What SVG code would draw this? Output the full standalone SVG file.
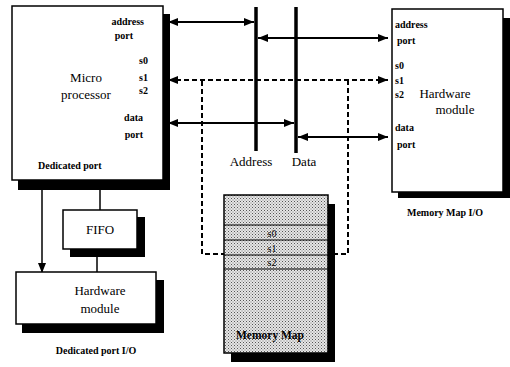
<svg xmlns="http://www.w3.org/2000/svg" width="510" height="367" viewBox="0 0 510 367">
<style>
.box{fill:#fff;stroke:#000;stroke-width:1.5}
.sh{fill:#000}
.t{font-family:"Liberation Serif",serif;fill:#000}
.s{font-size:10px;font-weight:bold}
.m{font-size:13px}
.ln{stroke:#000;stroke-width:2;fill:none}
.bus{stroke:#000;stroke-width:3.5;fill:none}
.dash{stroke:#000;stroke-width:2;stroke-dasharray:5,3;fill:none}
</style>
<defs>
<marker id="ah" viewBox="0 0 10 8" refX="10" refY="4" markerWidth="10" markerHeight="8" markerUnits="userSpaceOnUse" orient="auto-start-reverse">
<path d="M0,0 L10,4 L0,8 z" fill="#000"/>
</marker>
<pattern id="dots" width="3" height="3" patternUnits="userSpaceOnUse">
<rect width="3" height="3" fill="#e6e6e6"/>
<rect x="0" y="0" width="1" height="1" fill="#555"/>
<rect x="1.5" y="1.5" width="1" height="1" fill="#777"/>
</pattern>
</defs>

<g id="connectors">
<path class="dash" d="M202,81 V254 H348 V81"/>
<line class="ln" x1="168" y1="22" x2="254" y2="22" marker-start="url(#ah)" marker-end="url(#ah)"/>
<line class="ln" x1="258" y1="38" x2="388" y2="38" marker-start="url(#ah)" marker-end="url(#ah)"/>
<line class="dash" x1="168" y1="80" x2="388" y2="80"/>
<path d="M168,80 l10,-4 v8 z M388,80 l-10,-4 v8 z" fill="#000"/>
<line class="ln" x1="168" y1="123" x2="294" y2="123" marker-start="url(#ah)" marker-end="url(#ah)"/>
<line class="ln" x1="298" y1="137" x2="388" y2="137" marker-start="url(#ah)" marker-end="url(#ah)"/>
<line class="bus" x1="256" y1="7" x2="256" y2="151"/>
<line class="bus" x1="296" y1="7" x2="296" y2="153"/>
<line class="ln" style="stroke-width:1.5" x1="42" y1="190" x2="42" y2="273" marker-end="url(#ah)"/>
<line class="ln" style="stroke-width:1.5" x1="100" y1="190" x2="100" y2="210"/>
<line class="ln" style="stroke-width:1.5" x1="97" y1="257" x2="97" y2="272"/>
</g>

<text class="t m" x="251" y="166" text-anchor="middle">Address</text>
<text class="t m" x="304" y="166" text-anchor="middle">Data</text>

<g id="microprocessor">
<rect class="sh" x="18" y="14" width="152" height="176"/>
<rect class="box" x="12" y="6" width="151" height="174"/>
<text class="t s" x="144" y="25" text-anchor="end">address</text>
<text class="t s" x="133" y="39" text-anchor="end">port</text>
<text class="t s" x="139" y="64">s0</text>
<text class="t s" x="139" y="81">s1</text>
<text class="t s" x="139" y="94">s2</text>
<text class="t m" x="86" y="82" text-anchor="middle">Micro</text>
<text class="t m" x="86" y="99" text-anchor="middle">processor</text>
<text class="t s" x="143" y="121" text-anchor="end">data</text>
<text class="t s" x="143" y="138" text-anchor="end">port</text>
<text class="t s" x="38" y="169">Dedicated port</text>
</g>

<g id="hw-module-mm">
<rect class="sh" x="398" y="18" width="112" height="180"/>
<rect class="box" x="392" y="9" width="111" height="183"/>
<text class="t s" x="395" y="28">address</text>
<text class="t s" x="397" y="44">port</text>
<text class="t s" x="395" y="69">s0</text>
<text class="t s" x="395" y="84">s1</text>
<text class="t s" x="395" y="98">s2</text>
<text class="t m" x="445" y="98" text-anchor="middle">Hardware</text>
<text class="t m" x="455" y="114" text-anchor="middle">module</text>
<text class="t s" x="395" y="131">data</text>
<text class="t s" x="397" y="148">port</text>
<text class="t s" x="445" y="216" text-anchor="middle">Memory Map I/O</text>
</g>

<g id="fifo">
<rect class="sh" x="70" y="217" width="75" height="40"/>
<rect class="box" x="63" y="210" width="74" height="39"/>
<text class="t m" x="100" y="234" text-anchor="middle">FIFO</text>
</g>

<g id="hw-module-dp">
<rect class="sh" x="22" y="280" width="142" height="53"/>
<rect class="box" x="16" y="272" width="140" height="52"/>
<text class="t m" x="100" y="295" text-anchor="middle">Hardware</text>
<text class="t m" x="100" y="313" text-anchor="middle">module</text>
<text class="t s" x="96" y="354" text-anchor="middle">Dedicated port I/O</text>
</g>

<g id="memory-map">
<rect class="sh" x="231" y="204" width="104" height="158"/>
<rect x="224" y="195" width="104" height="158" fill="url(#dots)" stroke="#000" stroke-width="1.5"/>
<line class="ln" style="stroke-width:1" x1="224" y1="225" x2="328" y2="225"/>
<line class="ln" style="stroke-width:1" x1="224" y1="240" x2="328" y2="240"/>
<line class="ln" style="stroke-width:1" x1="224" y1="255" x2="328" y2="255"/>
<line class="ln" style="stroke-width:1" x1="224" y1="269" x2="328" y2="269"/>
<text class="t" style="font-size:10px" x="272" y="237" text-anchor="middle">s0</text>
<text class="t" style="font-size:10px" x="272" y="252" text-anchor="middle">s1</text>
<text class="t" style="font-size:10px" x="272" y="266" text-anchor="middle">s2</text>
<text class="t" style="font-size:11.5px;font-weight:bold" x="270" y="339" text-anchor="middle">Memory Map</text>
</g>
</svg>
